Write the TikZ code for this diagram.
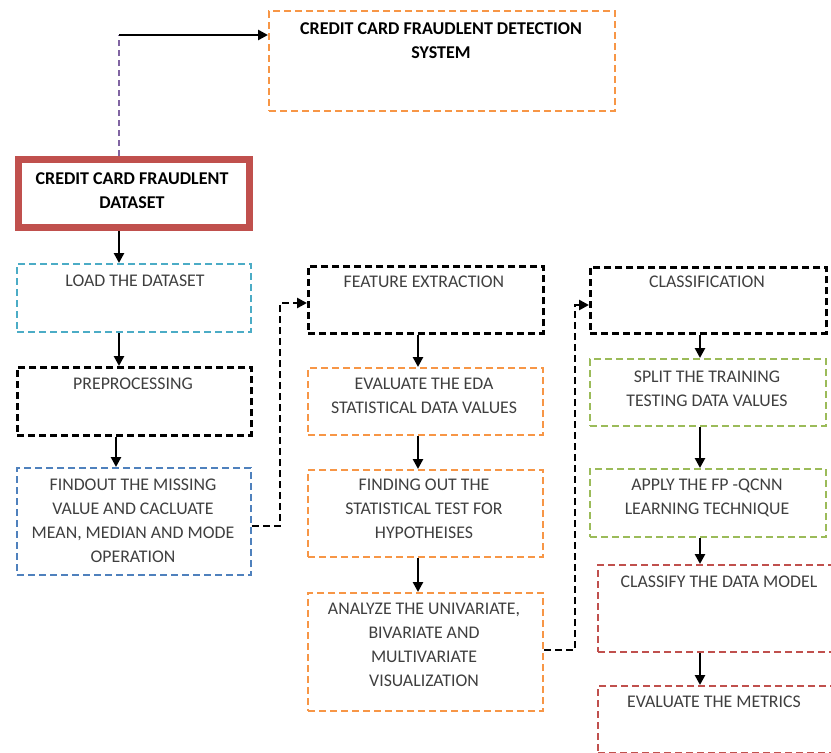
\documentclass[tikz,border=0pt]{standalone}
\usepackage{fontspec}
\setmainfont{Carlito}
\usetikzlibrary{arrows.meta}
\definecolor{orng}{HTML}{F79646}
\definecolor{teal2}{HTML}{4BACC6}
\definecolor{blue2}{HTML}{4F81BD}
\definecolor{green2}{HTML}{9BBB59}
\definecolor{red2}{HTML}{C0504D}
\definecolor{purp}{HTML}{8064A2}
\definecolor{txtgray}{HTML}{3F3F3F}
\tikzset{
  box/.style={draw=#1, line width=2pt, dash pattern=on 7pt off 4pt, inner sep=0pt, anchor=north west},
  kbox/.style={draw=black, line width=2.8pt, dash pattern=on 7pt off 4pt, inner sep=0pt, anchor=north west},
  txt/.style={font=\fontsize{17.8}{24}\selectfont, text=txtgray, align=center, inner sep=0pt, anchor=north},
  btxt/.style={font=\fontsize{18}{24}\selectfont\bfseries, text=black, align=center, inner sep=0pt, anchor=north},
  arr/.style={-{Triangle[length=10pt,width=10pt]}, line width=2.6pt, draw=black},
  darr/.style={-{Triangle[length=10pt,width=10pt]}, line width=2.6pt, draw=black, dash pattern=on 7pt off 4pt},
}
\begin{document}
\begin{tikzpicture}[x=1pt,y=-1pt]
\useasboundingbox (0,0) rectangle (831,753);
\clip (0,0) rectangle (831,753);
% top box
\node[box=orng, minimum width=346pt, minimum height=100pt] (top) at (268,10) {};
\node[btxt] (topt) at (441,22) {CREDIT CARD FRAUDLENT DETECTION\\SYSTEM};
% dataset
\node[draw=red2, line width=6pt, minimum width=232pt, minimum height=69pt, inner sep=0pt, anchor=north west] (ds) at (15,156) {};
\draw[red2, line width=1.3pt] ([shift={(6,6)}]ds.north west) rectangle ([shift={(-6,-6)}]ds.south east);
\node[btxt] (dst) at (132,172) {CREDIT CARD FRAUDLENT\\DATASET};
% link to top
\coordinate (c1) at (119,35);
\draw[purp, line width=1.6pt, dash pattern=on 6pt off 4pt] (ds.north -| c1) -- (c1);
\draw[arr] (c1) -- (c1 -| top.west);
% column 1
\node[box=teal2, minimum width=234pt, minimum height=68pt] (load) at (16,263) {};
\node[txt] (loadt) at (135,275) {LOAD THE DATASET};
\node[kbox, minimum width=234pt, minimum height=68pt] (pre) at (16,366) {};
\node[txt] (pret) at (133,378) {PREPROCESSING};
\node[box=blue2, minimum width=234pt, minimum height=107pt] (find) at (16,467) {};
\node[txt] (findt) at (133,479) {FINDOUT THE MISSING\\VALUE AND CACLUATE\\MEAN, MEDIAN AND MODE\\OPERATION};
% column 2
\node[kbox, minimum width=235pt, minimum height=67pt] (feat) at (307,265) {};
\node[txt] (featt) at (424,276) {FEATURE EXTRACTION};
\node[box=orng, minimum width=235pt, minimum height=67pt] (eda) at (307,367) {};
\node[txt] (edat) at (424,378) {EVALUATE THE EDA\\STATISTICAL DATA VALUES};
\node[box=orng, minimum width=235pt, minimum height=87pt] (hyp) at (307,469) {};
\node[txt] (hypt) at (424,479) {FINDING OUT THE\\STATISTICAL TEST FOR\\HYPOTHEISES};
\node[box=orng, minimum width=235pt, minimum height=118pt] (anal) at (307,592) {};
\node[txt] (analt) at (424,603) {ANALYZE THE UNIVARIATE,\\BIVARIATE AND\\MULTIVARIATE\\VISUALIZATION};
% column 3
\node[kbox, minimum width=236pt, minimum height=66pt] (cls) at (589,266) {};
\node[txt] (clst) at (707,276) {CLASSIFICATION};
\node[box=green2, minimum width=236pt, minimum height=67pt] (split) at (589,358) {};
\node[txt] (splitt) at (707,371) {SPLIT THE TRAINING\\TESTING DATA VALUES};
\node[box=green2, minimum width=236pt, minimum height=68pt] (apply) at (589,468) {};
\node[txt] (applyt) at (707,479) {APPLY THE FP -QCNN\\LEARNING TECHNIQUE};
\node[box=red2, minimum width=240pt, minimum height=87pt] (clsf) at (597,564) {};
\node[txt] (clsft) at (719,576) {CLASSIFY THE DATA MODEL};
\node[box=red2, minimum width=240pt, minimum height=67pt] (evm) at (597,685) {};
\node[txt] (evmt) at (714,696) {EVALUATE THE METRICS};
% arrows
\coordinate (xa) at (119,0);
\coordinate (xb) at (116,0);
\coordinate (xc) at (418,0);
\coordinate (xd) at (700,0);
\draw[arr] (ds.south -| xa) -- (load.north -| xa);
\draw[arr] (load.south -| xa) -- (pre.north -| xa);
\draw[arr] (pre.south -| xb) -- (find.north -| xb);
\draw[arr] (feat.south -| xc) -- (eda.north -| xc);
\draw[arr] (eda.south -| xc) -- (hyp.north -| xc);
\draw[arr] (hyp.south -| xc) -- (anal.north -| xc);
\draw[arr] (cls.south -| xd) -- (split.north -| xd);
\draw[arr] (split.south -| xd) -- (apply.north -| xd);
\draw[arr] (apply.south -| xd) -- (clsf.north -| xd);
\draw[arr] (clsf.south -| xd) -- (evm.north -| xd);
% dashed elbows
\coordinate (e1) at (250,526);
\coordinate (e2) at (280,303);
\draw[darr] (e1 -| find.east) -| (e2) -- (e2 -| feat.west);
\coordinate (f1) at (542,650);
\coordinate (f2) at (575,305);
\draw[darr] (f1 -| anal.east) -| (f2) -- (f2 -| cls.west);
\end{tikzpicture}
\end{document}
